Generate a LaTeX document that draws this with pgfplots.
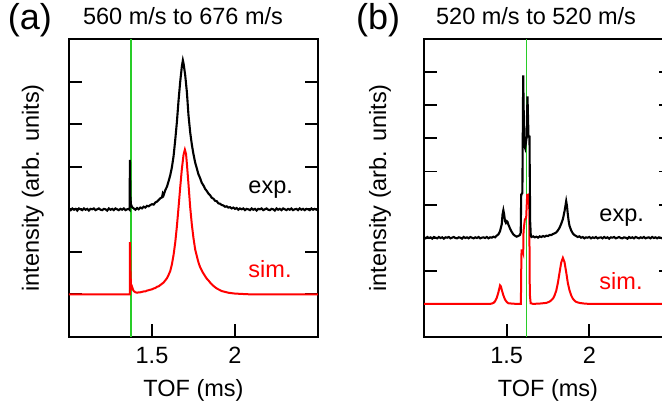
\documentclass[border=0pt]{standalone}
\usepackage{pgfplots}
\pgfplotsset{compat=1.18}
\usepackage{fontspec}
\setmainfont{Liberation Sans}
\definecolor{vgreen}{RGB}{40,205,40}
\newcommand{\lbl}{\fontsize{23.5}{28}\selectfont}
\newcommand{\bigp}{\fontsize{36}{42}\selectfont}
\pgfplotsset{
  panel/.style={
    scale only axis, anchor=south west, clip=false,
    xmin=1, xmax=2.5, ymin=0,
    xtick={1.5,2}, xtick pos=left, ytick pos=both,
    yticklabels={},
    tick align=inside, major tick length=13pt,
    axis line style={line width=2pt},
    every tick/.style={black, line width=1.9pt},
    /pgf/number format/assume math mode=true,
    tick label style={font=\lbl},
    xticklabel style={anchor=base, yshift=-26pt},
    label style={font=\lbl},
    xlabel={TOF (ms)},
    ylabel={intensity (arb. units)},
    xlabel style={at={(axis description cs:0.5,-0.201)}, anchor=base},
    title style={font=\lbl, anchor=base},
  },
  exps/.style={black, line width=2.1pt},
  sims/.style={red, line width=2pt},
  gline/.style={vgreen, line width=1.6pt},
}
\begin{document}
\begin{tikzpicture}
\path[use as bounding box] (0,0) rectangle (662pt,408pt);
% ---------------- panel (a) ----------------
\begin{axis}[panel, at={(69pt,71pt)}, width=249pt, height=298pt, ymax=7,
  ytick={1,2,3,4,5,6},
  ylabel style={at={(axis description cs:-0.1205,0.5)}, rotate=0, anchor=base},
  title={560 m/s to 676 m/s},
  title style={at={(axis description cs:0.458,1.030)}}]
\addplot[gline] coordinates {(1.374,0) (1.374,7)};
\addplot[sims] coordinates {
(1.00,1.00) (1.10,1.00) (1.20,1.00) (1.30,1.00) (1.366,1.00) (1.367,2.23) (1.370,1.60)
(1.373,1.25) (1.376,1.15) (1.380,1.18) (1.385,1.12) (1.39,1.08) (1.40,1.05) (1.41,1.04)
(1.42,1.05) (1.43,1.05) (1.44,1.06) (1.45,1.07) (1.46,1.07) (1.47,1.09) (1.48,1.10)
(1.49,1.11) (1.50,1.12) (1.51,1.14) (1.52,1.15) (1.53,1.18) (1.54,1.19) (1.55,1.22)
(1.56,1.25) (1.57,1.28) (1.58,1.33) (1.59,1.38) (1.60,1.46) (1.61,1.55) (1.62,1.71)
(1.63,1.93) (1.64,2.22) (1.65,2.60) (1.66,3.05) (1.67,3.52) (1.68,3.95) (1.69,4.28)
(1.698,4.40) (1.705,4.30) (1.71,4.08) (1.72,3.58) (1.73,3.05) (1.74,2.64) (1.75,2.32)
(1.76,2.06) (1.77,1.90) (1.78,1.75) (1.79,1.64) (1.80,1.56) (1.81,1.49) (1.82,1.43)
(1.83,1.37) (1.84,1.33) (1.85,1.28) (1.86,1.24) (1.87,1.20) (1.88,1.17) (1.89,1.14)
(1.90,1.12) (1.92,1.08) (1.94,1.06) (1.96,1.04) (1.98,1.03) (2.00,1.02) (2.05,1.01)
(2.10,1.00) (2.30,1.00) (2.50,1.00)};
\addplot[exps] coordinates {
(1.00,3.01) (1.01,2.98) (1.02,3.02) (1.03,2.99) (1.04,3.01) (1.05,2.97) (1.06,3.02)
(1.07,3.00) (1.08,2.98) (1.09,3.02) (1.10,2.99) (1.11,3.01) (1.12,2.97) (1.13,3.01)
(1.14,3.00) (1.15,3.02) (1.16,2.98) (1.17,3.00) (1.18,3.02) (1.19,2.99) (1.20,2.98)
(1.21,3.01) (1.22,3.00) (1.23,2.97) (1.24,3.02) (1.25,2.99) (1.26,3.01) (1.27,2.98)
(1.28,3.02) (1.29,3.00) (1.30,2.98) (1.31,3.01) (1.32,2.99) (1.33,3.02) (1.34,2.98)
(1.35,3.00) (1.36,3.01) (1.365,2.99) (1.367,4.16) (1.370,3.30) (1.373,3.12) (1.38,3.05)
(1.39,3.02) (1.40,2.99) (1.41,3.03) (1.42,3.00) (1.43,3.04) (1.44,3.02) (1.45,3.06)
(1.46,3.04) (1.47,3.08) (1.48,3.07) (1.49,3.10) (1.50,3.12) (1.51,3.11) (1.52,3.16)
(1.53,3.18) (1.54,3.22) (1.55,3.26) (1.56,3.28) (1.565,3.37) (1.57,3.33) (1.58,3.45)
(1.59,3.53) (1.60,3.66) (1.61,3.80) (1.62,3.99) (1.63,4.25) (1.64,4.63) (1.65,5.05)
(1.66,5.56) (1.67,6.00) (1.68,6.36) (1.686,6.50) (1.69,6.43) (1.70,6.15) (1.71,5.76)
(1.72,5.20) (1.73,4.81) (1.74,4.52) (1.75,4.29) (1.76,4.10) (1.77,3.96) (1.78,3.82)
(1.79,3.73) (1.80,3.62) (1.81,3.56) (1.82,3.48) (1.83,3.43) (1.84,3.37) (1.85,3.33)
(1.86,3.27) (1.87,3.25) (1.88,3.20) (1.89,3.19) (1.90,3.14) (1.91,3.13) (1.92,3.10)
(1.93,3.09) (1.94,3.06) (1.95,3.07) (1.96,3.04) (1.97,3.05) (1.98,3.02) (1.99,3.04)
(2.00,3.01) (2.01,3.03) (2.02,2.99) (2.03,3.02) (2.04,3.00) (2.05,3.02) (2.06,2.98)
(2.07,3.01) (2.08,3.00) (2.09,2.98) (2.10,3.02) (2.11,2.99) (2.12,3.01) (2.13,2.97)
(2.14,3.01) (2.15,3.00) (2.16,3.02) (2.17,2.98) (2.18,3.00) (2.19,3.02) (2.20,2.99)
(2.21,2.98) (2.22,3.01) (2.23,3.00) (2.24,2.97) (2.25,3.02) (2.26,2.99) (2.27,3.01)
(2.28,2.98) (2.29,3.02) (2.30,3.00) (2.31,2.98) (2.32,3.01) (2.33,2.99) (2.34,3.02)
(2.35,2.98) (2.36,3.00) (2.37,3.01) (2.38,2.98) (2.39,3.02) (2.40,2.99) (2.41,3.01)
(2.42,2.98) (2.43,3.01) (2.44,3.00) (2.45,2.98) (2.46,3.02) (2.47,2.99) (2.48,3.01)
(2.49,2.99) (2.50,3.00)};
\node[anchor=base west, font=\lbl] at (axis cs:2.06,3.38) {exp.};
\node[anchor=base west, font=\lbl, red] at (axis cs:2.06,1.39) {sim.};
\node[anchor=center, font=\bigp] at (axis description cs:-0.157,1.064) {(a)};
\end{axis}
% ---------------- panel (b) ----------------
\begin{axis}[panel, at={(424pt,71pt)}, width=248pt, height=298pt, ymax=9,
  ytick={1,2,3,4,5,6,7,8},
  ylabel style={at={(axis description cs:-0.153,0.5)}, rotate=0, anchor=base},
  title={520 m/s to 520 m/s},
  title style={at={(axis description cs:0.452,1.030)}}]
\addplot[gline] coordinates {(1.621,0) (1.621,9)};
\addplot[sims] coordinates {
(1.00,1.00) (1.20,1.00) (1.40,1.00) (1.41,1.01) (1.42,1.03) (1.43,1.08) (1.44,1.18)
(1.45,1.35) (1.46,1.56) (1.465,1.53) (1.47,1.43) (1.48,1.26) (1.49,1.13) (1.50,1.06)
(1.51,1.02) (1.53,1.01) (1.56,1.00) (1.586,1.00) (1.588,2.00) (1.590,2.62) (1.596,2.62)
(1.600,2.55) (1.602,3.20) (1.610,3.55) (1.618,3.60) (1.624,4.29) (1.636,4.31) (1.640,1.30)
(1.645,1.02) (1.66,1.00) (1.70,1.01) (1.72,1.02) (1.74,1.03) (1.75,1.05) (1.76,1.07)
(1.77,1.11) (1.78,1.16) (1.79,1.26) (1.80,1.40) (1.81,1.64) (1.82,1.95) (1.83,2.25)
(1.84,2.39) (1.85,2.26) (1.86,1.96) (1.87,1.63) (1.88,1.41) (1.89,1.26) (1.90,1.16)
(1.91,1.10) (1.92,1.06) (1.94,1.03) (1.97,1.01) (2.00,1.00) (2.20,1.00) (2.50,1.00)};
\addplot[exps] coordinates {
(1.00,3.01) (1.01,2.98) (1.02,3.02) (1.03,2.99) (1.04,3.01) (1.05,2.97) (1.06,3.02)
(1.07,3.00) (1.08,2.98) (1.09,3.02) (1.10,2.99) (1.11,3.01) (1.12,2.97) (1.13,3.01)
(1.14,3.00) (1.15,3.02) (1.16,2.98) (1.17,3.00) (1.18,3.02) (1.19,2.99) (1.20,2.98)
(1.21,3.01) (1.22,3.00) (1.23,2.97) (1.24,3.02) (1.25,2.99) (1.26,3.01) (1.27,2.98)
(1.28,3.02) (1.29,3.00) (1.30,2.98) (1.31,3.01) (1.32,2.99) (1.33,3.02) (1.34,2.98)
(1.35,3.00) (1.36,3.01) (1.37,2.99) (1.38,3.02) (1.39,2.98) (1.40,3.01) (1.41,3.00)
(1.42,3.03) (1.43,3.01) (1.44,3.06) (1.45,3.10) (1.46,3.20) (1.47,3.40) (1.475,3.70)
(1.48,3.83) (1.485,3.70) (1.49,3.50) (1.495,3.45) (1.50,3.50) (1.505,3.48) (1.51,3.40)
(1.52,3.28) (1.53,3.18) (1.54,3.10) (1.55,3.06) (1.56,3.03) (1.57,3.05) (1.58,3.08)
(1.585,3.15) (1.588,4.30) (1.595,4.35) (1.600,7.90) (1.606,5.80) (1.612,5.70) (1.620,6.00)
(1.626,7.27) (1.632,6.05) (1.638,6.05) (1.642,3.50) (1.646,3.05) (1.65,3.02) (1.66,3.04)
(1.67,3.01) (1.68,3.03) (1.69,3.00) (1.70,3.04) (1.71,3.02) (1.72,3.05) (1.73,3.03)
(1.74,3.06) (1.75,3.05) (1.76,3.08) (1.77,3.08) (1.78,3.11) (1.79,3.13) (1.80,3.16)
(1.81,3.22) (1.82,3.30) (1.83,3.42) (1.84,3.56) (1.85,3.80) (1.86,4.10) (1.865,3.95)
(1.87,3.70) (1.875,3.50) (1.88,3.36) (1.89,3.22) (1.90,3.13) (1.91,3.08) (1.92,3.05)
(1.93,3.02) (1.94,3.04) (1.95,3.00) (1.96,3.02) (1.97,2.98) (1.98,3.01) (1.99,3.00)
(2.00,3.02) (2.01,2.98) (2.02,3.01) (2.03,2.99) (2.04,3.02) (2.05,2.98) (2.06,3.00)
(2.07,3.01) (2.08,2.98) (2.09,3.02) (2.10,2.99) (2.11,3.01) (2.12,2.97) (2.13,3.01)
(2.14,3.00) (2.15,3.02) (2.16,2.98) (2.17,3.00) (2.18,3.02) (2.19,2.99) (2.20,2.98)
(2.21,3.01) (2.22,3.00) (2.23,2.97) (2.24,3.02) (2.25,2.99) (2.26,3.01) (2.27,2.98)
(2.28,3.02) (2.29,3.00) (2.30,2.98) (2.31,3.01) (2.32,2.99) (2.33,3.02) (2.34,2.98)
(2.35,3.00) (2.36,3.01) (2.37,2.98) (2.38,3.02) (2.39,2.99) (2.40,3.01) (2.41,2.98)
(2.42,3.01) (2.43,3.00) (2.44,2.98) (2.45,3.02) (2.46,2.99) (2.47,3.01) (2.48,2.98)
(2.49,3.01) (2.50,3.00)};
\node[anchor=base west, font=\lbl] at (axis cs:2.04,3.50) {exp.};
\node[anchor=base west, font=\lbl, red] at (axis cs:2.04,1.42) {sim.};
\node[anchor=center, font=\bigp] at (axis description cs:-0.185,1.064) {(b)};
\end{axis}
\end{tikzpicture}
\end{document}
